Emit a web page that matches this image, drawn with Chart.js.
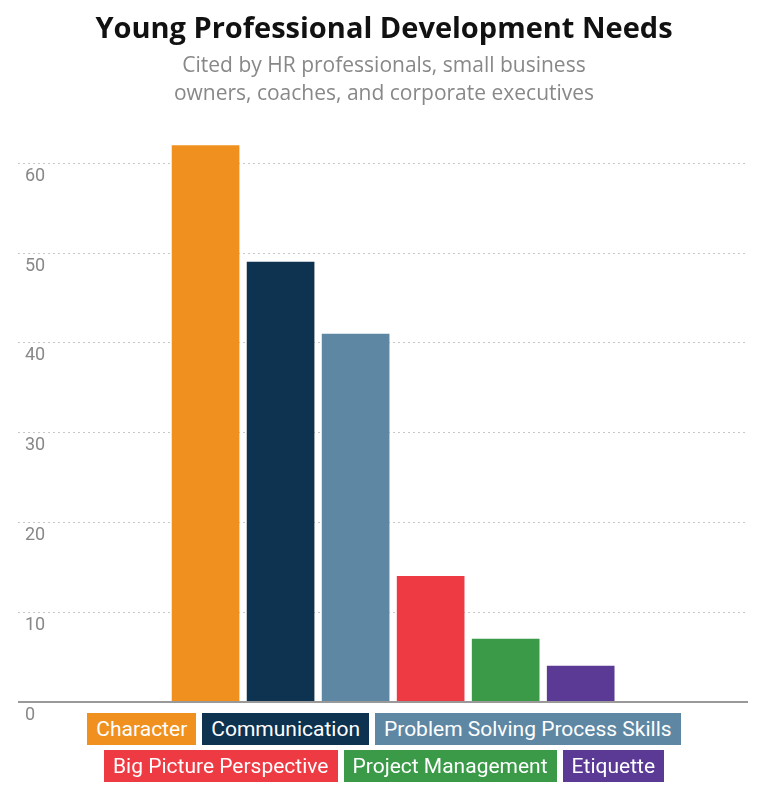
<!DOCTYPE html>
<html>
<head>
<meta charset="utf-8">
<title>Young Professional Development Needs</title>
<script src="https://cdn.jsdelivr.net/npm/chart.js"></script>
<style>
    body { margin: 0; background: #fff; font-family: "Open Sans", sans-serif; }
    #wrap { position: relative; width: 768px; height: 791px; }
    #chart { position: absolute; left: 0; top: 0; }
    .title { position: absolute; top: 7px; width: 768px; text-align: center; font-size: 29px; font-weight: bold; color: #111; }
    .sub { position: absolute; top: 50px; width: 768px; text-align: center; font-size: 21px; color: #888; line-height: 28px; }
    .legend { position: absolute; left: 0; width: 768px; text-align: center; font-family: "Liberation Sans Narrow", "Roboto", sans-serif; }
    .legend span { display: inline-block; color: #fff; font-size: 21px; height: 32px; line-height: 32px; padding: 0 9px; margin: 0 3px; }
</style>
</head>
<body>
<div id="wrap">
    <canvas id="chart" width="768" height="791"></canvas>
    <div class="title">Young Professional Development Needs</div>
    <div class="sub">Cited by HR professionals, small business<br>owners, coaches, and corporate executives</div>
    <div class="legend" id="row1" style="top:713px"></div>
    <div class="legend" id="row2" style="top:750px"></div>
</div>
<script>
    const categories = ['Character', 'Communication', 'Problem Solving Process Skills',
                        'Big Picture Perspective', 'Project Management', 'Etiquette'];
    const values = [62, 49, 41, 14, 7, 4];
    const colors = ['#F0901E', '#0D3350', '#5E87A3', '#EE3A43', '#3A9A48', '#5B3A96'];
    const yTicks = [0, 10, 20, 30, 40, 50, 60];

    // legend boxes
    categories.forEach((c, i) => {
        const s = document.createElement('span');
        s.textContent = c;
        s.style.background = colors[i];
        document.getElementById(i < 3 ? 'row1' : 'row2').appendChild(s);
    });

    const tickPlugin = {
        id: 'ticks',
        afterDraw(chart) {
            const ctx = chart.ctx, y = chart.scales.y, a = chart.chartArea;
            ctx.save();
            ctx.fillStyle = '#888';
            ctx.font = '18px "Liberation Sans Narrow", Roboto, sans-serif';
            ctx.textBaseline = 'middle';
            yTicks.forEach(t => ctx.fillText(String(t), 25, y.getPixelForValue(t) + 13));
            ctx.strokeStyle = '#999';
            ctx.lineWidth = 2;
            ctx.beginPath();
            ctx.moveTo(a.left, y.getPixelForValue(0));
            ctx.lineTo(a.right, y.getPixelForValue(0));
            ctx.stroke();
            ctx.restore();
        }
    };

    new Chart(document.getElementById('chart'), {
        type: 'bar',
        data: {
            datasets: [{
                data: values.map((v, i) => ({ x: i, y: v })),
                backgroundColor: colors,
                barThickness: 67
            }]
        },
        options: {
            responsive: false,
            animation: false,
            layout: { padding: { left: 18, right: 20, top: 141, bottom: 89 } },
            plugins: { legend: { display: false }, tooltip: { enabled: false } },
            scales: {
                x: { type: 'linear', min: -2.5, max: 7.23, offset: false, display: false },
                y: {
                    min: 0, max: 62.5,
                    ticks: { display: false, stepSize: 10 },
                    border: { display: false, dash: [2, 3] },
                    grid: {
                        color: c => (c.tick && c.tick.value % 10 === 0) ? '#c8c8c8' : 'rgba(0,0,0,0)',
                        lineWidth: 1, drawTicks: false
                    }
                }
            }
        },
        plugins: [tickPlugin]
    });
</script>
</body>
</html>
